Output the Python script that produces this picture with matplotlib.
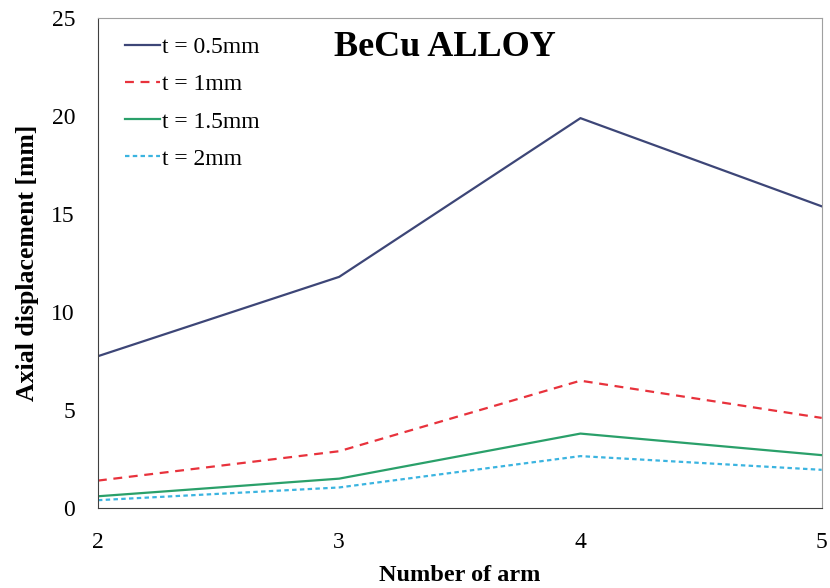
import numpy as np
import matplotlib.pyplot as plt

# Dane
arms = [2, 3, 4, 5]
t05 = [7.75, 11.8, 19.9, 15.4]
t1 = [1.4, 2.9, 6.5, 4.6]
t15 = [0.6, 1.5, 3.8, 2.7]
t2 = [0.4, 1.05, 2.65, 1.95]
labels = ['t = 0.5mm', 't = 1mm', 't = 1.5mm', 't = 2mm']

plt.rcParams['font.family'] = ['Liberation Serif', 'DejaVu Serif']

fig = plt.figure(figsize=(8.3, 5.88), dpi=100)
ax = fig.add_axes([0.118, 0.136, 0.872, 0.833])

ax.plot(arms, t05, color='#3d4677', lw=1.6, label=labels[0])
ax.plot(arms, t1, color='#e8323c', lw=1.6, ls=(0, (4, 3)), label=labels[1])
ax.plot(arms, t15, color='#2aa06a', lw=1.6, label=labels[2])
ax.plot(arms, t2, color='#3bb4e0', lw=1.6, ls=(0, (2, 1.5)), label=labels[3])

ax.set_xlim(2, 5)
ax.set_ylim(0, 25)
ax.set_xticks(arms)
ax.set_yticks([0, 5, 10, 15, 20, 25])
ax.tick_params(length=0, labelsize=17)
ax.tick_params(axis='y', pad=16.5)
ax.tick_params(axis='x', pad=17)
for s in ax.spines.values():
    s.set_color('#a0a0a0')
ax.spines['left'].set_color('#404040')
ax.spines['bottom'].set_color('#404040')

ax.set_xlabel('Number of arm', fontsize=17.5, fontweight='bold', labelpad=9)
ax.set_ylabel('Axial displacement [mm]', fontsize=18.5, fontweight='bold', labelpad=9)
ax.text(0.48, 0.94, 'BeCu ALLOY', transform=ax.transAxes, fontsize=26,
        fontweight='bold', ha='center', va='center')

leg = ax.legend(loc='upper left', frameon=False, fontsize=17, handlelength=1.5,
                handletextpad=0.1, labelspacing=0.66, borderaxespad=0,
                borderpad=0, bbox_to_anchor=(0.037, 0.962))

plt.savefig('out.png', dpi=100)
